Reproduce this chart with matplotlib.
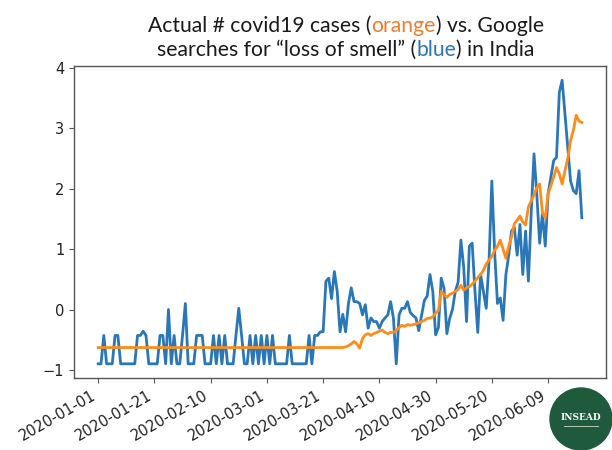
import matplotlib
matplotlib.use('Agg')
import matplotlib.pyplot as plt
import pandas as pd
from matplotlib.patches import Ellipse
from matplotlib.lines import Line2D

# ---------------- data ----------------
start_date = '2020-01-01'

searches_blue = [
    -0.9, -0.9, -0.43, -0.9, -0.9, -0.9, -0.43, -0.43, -0.9, -0.9,        # 0-9
    -0.9, -0.9, -0.9, -0.9, -0.43, -0.43, -0.36, -0.43, -0.9, -0.9,       # 10-19
    -0.9, -0.9, -0.43, -0.43, -0.9, 0.0, -0.9, -0.43, -0.9, -0.9,         # 20-29
    -0.43, 0.1, -0.9, -0.9, -0.9, -0.43, -0.43, -0.43, -0.9, -0.9,        # 30-39
    -0.9, -0.43, -0.9, -0.43, -0.9, -0.43, -0.9, -0.9, -0.9, -0.43,       # 40-49
    0.02, -0.43, -0.9, -0.9, -0.43, -0.9, -0.43, -0.9, -0.43, -0.9,       # 50-59
    -0.43, -0.9, -0.43, -0.9, -0.9, -0.9, -0.9, -0.9, -0.43, -0.9,        # 60-69
    -0.9, -0.9, -0.9, -0.9, -0.9, -0.43, -0.9, -0.43, -0.43, -0.37,       # 70-79
    -0.37, 0.47, 0.52, 0.18, 0.63, 0.3, -0.37, -0.08, -0.37, 0.1,         # 80-89
    0.36, 0.13, 0.13, 0.1, -0.09, 0.08, -0.31, -0.14, -0.2, -0.2,         # 90-99
    -0.31, -0.2, -0.14, -0.09, 0.13, -0.14, -0.9, -0.09, 0.02, 0.02,      # 100-109
    0.13, -0.05, -0.1, -0.14, -0.35, -0.1, 0.15, 0.22, 0.58, 0.3,         # 110-119
    -0.42, -0.3, 0.52, 0.35, -0.4, -0.15, 0.0, 0.3, 0.45, 1.15,           # 120-129
    0.7, -0.2, 1.05, 1.1, 0.3, -0.38, 0.58, 0.3, 0.02, 0.8,               # 130-139
    2.13, 0.95, 0.1, 0.19, -0.18, 0.58, 0.9, 1.3, 1.36, 0.9,              # 140-149
    1.41, 0.58, 1.3, 0.47, 1.6, 2.58, 1.9, 1.1, 1.6, 1.05,                # 150-159
    1.92, 2.2, 2.47, 2.52, 3.6, 3.8, 3.25, 2.7, 2.13, 1.97,               # 160-169
    1.92, 2.3, 1.52,                                                      # 170-172
]

cases_orange = [-0.63] * 88 + [
    -0.62, -0.6,                                                          # 88-89
    -0.57, -0.53, -0.57, -0.64, -0.48, -0.42, -0.4, -0.43, -0.4, -0.38,   # 90-99
    -0.36, -0.34, -0.38, -0.4, -0.38, -0.38, -0.35, -0.3, -0.26, -0.28,   # 100-109
    -0.25, -0.26, -0.25, -0.24, -0.22, -0.2, -0.18, -0.15, -0.14, -0.12,  # 110-119
    -0.06, -0.02, 0.3, 0.25, 0.2, 0.25, 0.27, 0.3, 0.33, 0.4,             # 120-129
    0.32, 0.36, 0.38, 0.42, 0.47, 0.53, 0.58, 0.65, 0.75, 0.82,           # 130-139
    0.88, 0.98, 1.05, 1.15, 1.0, 0.85, 1.05, 1.2, 1.42, 1.48,             # 140-149
    1.55, 1.45, 1.4, 1.7, 1.8, 1.9, 2.02, 2.08, 1.6, 1.52,                # 150-159
    1.92, 2.05, 2.2, 2.35, 2.25, 2.08, 2.3, 2.5, 2.8, 2.97,               # 160-169
    3.22, 3.12, 3.1,                                                      # 170-172
]

x_tick_labels = ['2020-01-01', '2020-01-21', '2020-02-10', '2020-03-01',
                 '2020-03-21', '2020-04-10', '2020-04-30', '2020-05-20',
                 '2020-06-09']
y_ticks = [-1, 0, 1, 2, 3, 4]

dark = '#1a1a1a'
orange_word = '#ED7D31'
blue_word = '#2E75B6'
title_line1 = [("Actual # covid19 cases (", dark), ("orange", orange_word),
               (") vs. Google", dark)]
title_line2 = [("searches for \u201closs of smell\u201d (", dark), ("blue", blue_word),
               (") in India", dark)]
logo_text = 'INSEAD'

# ---------------- figure ----------------
W, H = 612, 450
fig = plt.figure(figsize=(W / 100, H / 100), dpi=100)
fig.patch.set_facecolor('white')

ax_l, ax_r, ax_t, ax_b = 74, 606, 66, 378
ax = fig.add_axes([ax_l / W, 1 - ax_b / H, (ax_r - ax_l) / W, (ax_b - ax_t) / H])

dates = pd.date_range(start_date, periods=len(searches_blue), freq='D')
ax.plot(dates, searches_blue, color='#2a77b8', lw=2.0)
ax.plot(dates[:len(cases_orange)], cases_orange, color='#ff8c1a', lw=2.0)

ax.set_xticks(pd.to_datetime(x_tick_labels))
ax.set_xticklabels(x_tick_labels, rotation=30, ha='right', fontsize=10.5, color='#222222')
ax.set_yticks(y_ticks)
ax.set_yticklabels(['\u2212' + str(abs(v)) if v < 0 else str(v) for v in y_ticks],
                   fontsize=10.5, color='#222222')
for sp in ax.spines.values():
    sp.set_color('#555555')
    sp.set_linewidth(1.0)
ax.tick_params(colors='#555555', labelcolor='#222222')

# ---------------- multi-coloured title ----------------
renderer = fig.canvas.get_renderer()
title_family = 'Lato'


def line_width(pieces, fs):
    tot = 0
    for s, c in pieces:
        t = fig.text(0, 0, s, fontsize=fs, family=title_family)
        tot += t.get_window_extent(renderer).width
        t.remove()
    return tot


def draw_line(pieces, cx, baseline, fs):
    total = line_width(pieces, fs)
    x = cx - total / 2
    for s, c in pieces:
        t = fig.text(x / W, 1 - baseline / H, s, fontsize=fs, family=title_family,
                     color=c, ha='left', va='baseline')
        x += t.get_window_extent(renderer).width


target_w = 397
fs = 15 * target_w / line_width(title_line1, 15)
draw_line(title_line1, 346, 32, fs)
draw_line(title_line2, 346, 56, fs)

# ---------------- logo ----------------
cx, cy, r = 581, 419, 31
fig.add_artist(Ellipse((cx / W, 1 - cy / H), 2 * r / W, 2 * r / H,
                       transform=fig.transFigure, color='#1f5a3c', zorder=5))
fig.text(cx / W, 1 - (cy - 1) / H, logo_text, fontsize=6.5, family='DejaVu Serif',
         color='white', ha='center', va='center', weight='bold', zorder=6)
fig.add_artist(Line2D([(cx - 17) / W, (cx + 17) / W], [1 - (cy + 7) / H] * 2,
                      transform=fig.transFigure, color='#cfd8cf', lw=0.6, zorder=6))

fig.savefig('out.png', dpi=100)
